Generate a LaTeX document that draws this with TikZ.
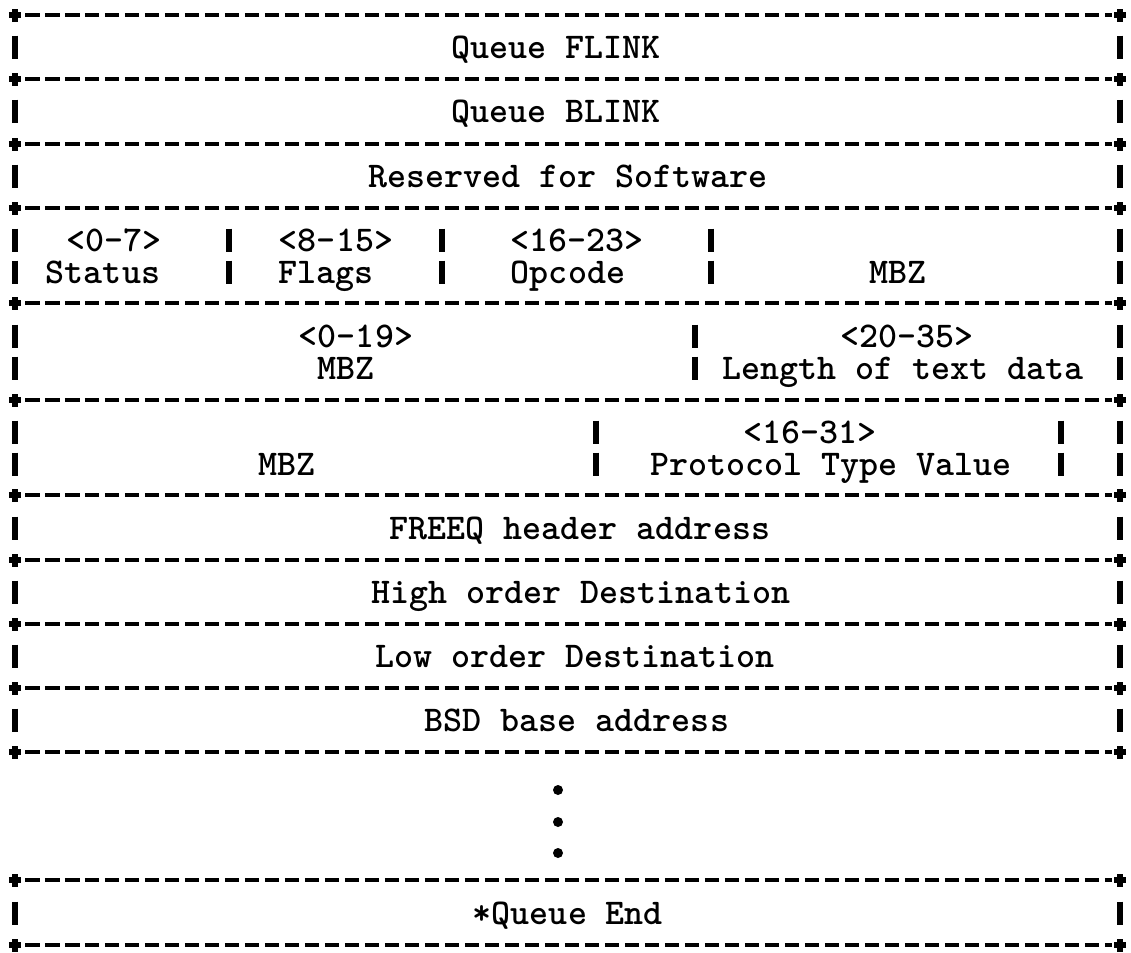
\documentclass[tikz,border=0pt]{standalone}

\tikzset{
  dashrule/.style={line width=1.3pt, dash pattern=on 0.145cm off 0.055cm},
  plusmark/.style={line width=1.5pt},
  barmark/.style={line width=1.6pt},
  field/.style={inner sep=0pt, text height=6.3pt, text depth=0pt,
    font=\ttfamily\bfseries\fontsize{10.3}{12}\selectfont},
}

% dashed separator with a "+" at both ends
\newcommand{\sepline}[1]{%
  \draw[dashrule] (\lx+0.10,#1) -- (\rx-0.08,#1);
  \draw[plusmark] (\lx-0.06,#1) -- (\lx+0.06,#1) (\lx,#1-0.065) -- (\lx,#1+0.065);
  \draw[plusmark] (\rx-0.06,#1) -- (\rx+0.06,#1) (\rx,#1-0.065) -- (\rx,#1+0.065);
}
% one "|" on a text line
\newcommand{\vbar}[2]{\draw[barmark] (#1,#2+0.115) -- (#1,#2-0.115);}

\begin{document}
\begin{tikzpicture}
  \useasboundingbox (0,0) rectangle (11.31,-9.52);

  \def\lx{0.15}
  \def\rx{11.20}

  % separators
  \sepline{-0.15}
  \sepline{-0.79}
  \sepline{-1.44}
  \sepline{-2.08}
  \sepline{-3.03}
  \sepline{-4.00}
  \sepline{-4.95}
  \sepline{-5.60}
  \sepline{-6.24}
  \sepline{-6.88}
  \sepline{-7.52}
  \sepline{-8.80}
  \sepline{-9.45}

  % outer bars, single line rows
  \foreach \y in {-0.47,-1.11,-1.76,-5.28,-5.92,-6.56,-7.20,-9.13} {
    \vbar{\lx}{\y}
    \vbar{\rx}{\y}
  }

  % status / flags / opcode / MBZ
  \foreach \y in {-2.40,-2.72} {
    \vbar{\lx}{\y} \vbar{2.29}{\y} \vbar{4.42}{\y} \vbar{7.11}{\y} \vbar{\rx}{\y}
  }
  % MBZ / length of text data
  \foreach \y in {-3.36,-3.68} {
    \vbar{\lx}{\y} \vbar{6.95}{\y} \vbar{\rx}{\y}
  }
  % MBZ / protocol type value
  \foreach \y in {-4.32,-4.64} {
    \vbar{\lx}{\y} \vbar{5.96}{\y} \vbar{10.61}{\y} \vbar{\rx}{\y}
  }

  % texts
  \node[field] (flink) at (5.56,-0.47) {Queue FLINK};
  \node[field] (blink) at (5.56,-1.11) {Queue BLINK};
  \node[field] (resv)  at (5.68,-1.76) {Reserved for Software};

  \node[field] (stbits) at (1.14,-2.40) {<0-7>};
  \node[field] (status) at (1.03,-2.72) {Status};
  \node[field] (flbits) at (3.36,-2.40) {<8-15>};
  \node[field] (flags)  at (3.26,-2.72) {Flags};
  \node[field] (opbits) at (5.77,-2.40) {<16-23>};
  \node[field] (opcode) at (5.68,-2.72) {Opcode};
  \node[field] (mbza)   at (8.98,-2.72) {MBZ};

  \node[field] (mbzbbits) at (3.56,-3.36) {<0-19>};
  \node[field] (mbzb)     at (3.46,-3.68) {MBZ};
  \node[field] (lenbits)  at (9.07,-3.36) {<20-35>};
  \node[field] (len)      at (9.03,-3.68) {Length of text data};

  \node[field] (mbzc)    at (2.87,-4.64) {MBZ};
  \node[field] (ptbits)  at (8.10,-4.32) {<16-31>};
  \node[field] (ptype)   at (8.31,-4.64) {Protocol Type Value};

  \node[field] (freeq) at (5.80,-5.28) {FREEQ header address};
  \node[field] (hdest) at (5.81,-5.92) {High order Destination};
  \node[field] (ldest) at (5.75,-6.56) {Low order Destination};
  \node[field] (bsd)   at (5.77,-7.20) {BSD base address};

  % more entries
  \fill (5.58,-7.90) circle (0.05);
  \fill (5.58,-8.22) circle (0.05);
  \fill (5.58,-8.53) circle (0.05);

  \node[field] (qend) at (5.68,-9.13) {*Queue End};
\end{tikzpicture}
\end{document}
